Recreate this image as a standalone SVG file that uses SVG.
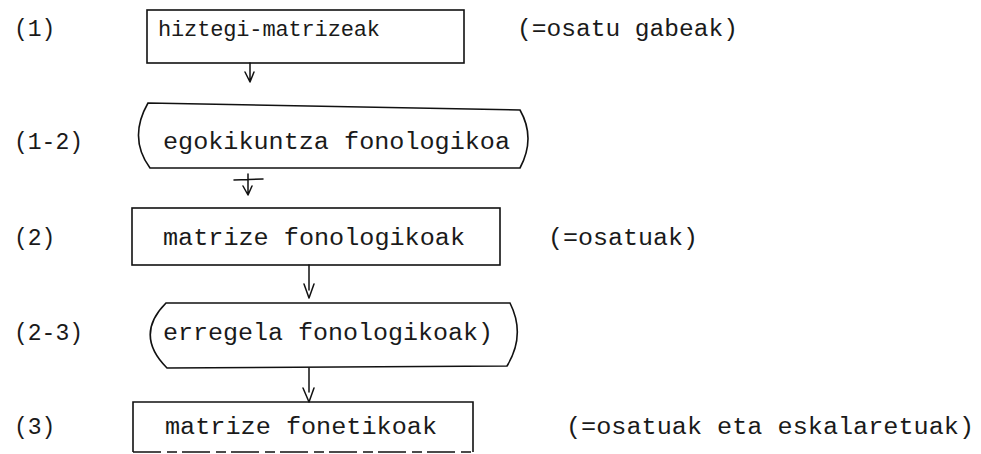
<svg xmlns="http://www.w3.org/2000/svg" width="981" height="454" viewBox="0 0 981 454">
<style>
.t{font-family:"Liberation Mono","Courier New",monospace;font-size:23px;fill:#1a1a1a;}
.b{fill:none;stroke:#111;stroke-width:1.6;}
.c{fill:none;stroke:#111;stroke-width:1.5;stroke-linecap:round;stroke-linejoin:round;}
</style>
<rect width="981" height="454" fill="#fff"/>
<g id="labels">
<text class="t" x="14" y="36">(1)</text>
<text class="t" x="14" y="149">(1-2)</text>
<text class="t" x="14" y="245">(2)</text>
<text class="t" x="14" y="340">(2-3)</text>
<text class="t" x="14" y="434">(3)</text>
</g>
<g id="n1">
<rect class="b" x="147" y="10" width="317" height="53"/>
<text class="t" x="158" y="36" style="font-size:22px" textLength="222" lengthAdjust="spacing">hiztegi-matrizeak</text>
</g>
<g id="n1note"><text class="t" x="517" y="36" textLength="221" lengthAdjust="spacingAndGlyphs">(=osatu gabeak)</text></g>
<g id="n2">
<path class="b" d="M148,103 L520,110 Q536,138 520,168 L150,168 Q128,138 148,103 Z"/>
<text class="t" x="163" y="149" textLength="347" lengthAdjust="spacingAndGlyphs">egokikuntza fonologikoa</text>
</g>
<g id="n3">
<rect class="b" x="132" y="208" width="368" height="57"/>
<text class="t" x="163" y="245" textLength="302" lengthAdjust="spacingAndGlyphs">matrize fonologikoak</text>
</g>
<g id="n3note"><text class="t" x="548" y="245" textLength="150" lengthAdjust="spacingAndGlyphs">(=osatuak)</text></g>
<g id="n4">
<path class="b" d="M166,303 L510,303 Q526,335 507,366 L167,368 Q134,335 166,303 Z"/>
<text class="t" x="163" y="340" textLength="330" lengthAdjust="spacingAndGlyphs">erregela fonologikoak)</text>
</g>
<g id="n5">
<path class="b" d="M133,452 L133,402 L473,402 L473,452"/>
<path class="b" d="M133,452 L473,452" stroke-dasharray="28 6 10 5"/>
<text class="t" x="165" y="434" textLength="272" lengthAdjust="spacingAndGlyphs">matrize fonetikoak</text>
</g>
<g id="n5note"><text class="t" x="566" y="434" textLength="408" lengthAdjust="spacingAndGlyphs">(=osatuak eta eskalaretuak)</text></g>
<g id="connectors">
<path class="c" d="M250,63 L250,80 M245,72 L250,82 L254,72"/>
<path class="c" d="M248,174 L248,194 M234,180 L263,179 M243,186 L248,195 L252,186"/>
<path class="c" d="M309,265 L309,290 M304,284 L309,298 L314,284"/>
<path class="c" d="M309,368 L309,392 M303,388 L309,402 L314,388"/>
</g>
</svg>
